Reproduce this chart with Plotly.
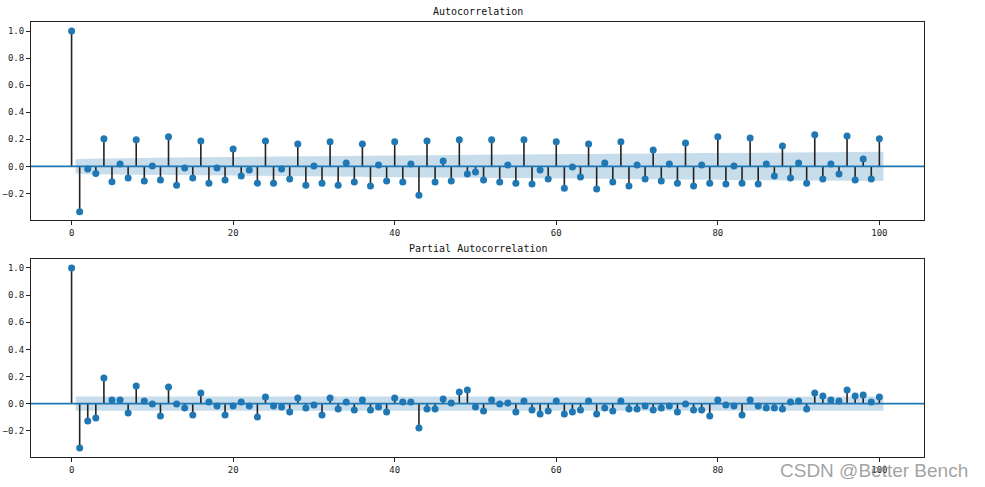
import numpy as np
import plotly.graph_objects as go
from plotly.subplots import make_subplots

lags = list(range(0, 101))
acf_values = [
    1.0, -0.335, -0.02, -0.052, 0.203, -0.114, 0.017, -0.087, 0.196, -0.109,
    0.002, -0.101, 0.218, -0.139, -0.012, -0.087, 0.188, -0.124, -0.012, -0.101,
    0.129, -0.072, -0.027, -0.124, 0.188, -0.124, -0.02, -0.094, 0.166, -0.139,
    0.002, -0.124, 0.181, -0.139, 0.025, -0.116, 0.166, -0.146, 0.01, -0.109,
    0.181, -0.116, 0.017, -0.213, 0.188, -0.116, 0.04, -0.109, 0.196, -0.057,
    -0.041, -0.101, 0.196, -0.116, 0.01, -0.124, 0.196, -0.131, -0.027, -0.094,
    0.181, -0.161, -0.005, -0.079, 0.166, -0.168, 0.025, -0.116, 0.181, -0.146,
    0.01, -0.094, 0.121, -0.109, 0.017, -0.124, 0.173, -0.146, 0.01, -0.124,
    0.218, -0.131, 0.002, -0.124, 0.210, -0.131, 0.017, -0.072, 0.151, -0.087,
    0.025, -0.124, 0.233, -0.094, 0.017, -0.057, 0.225, -0.101, 0.054, -0.094,
    0.203,
]
pacf_values = [
    1.0, -0.327, -0.128, -0.106, 0.189, 0.027, 0.027, -0.069, 0.130, 0.020,
    -0.002, -0.091, 0.123, -0.002, -0.032, -0.084, 0.079, 0.012, -0.017, -0.084,
    -0.017, 0.012, -0.017, -0.098, 0.049, -0.017, -0.025, -0.061, 0.042, -0.032,
    -0.010, -0.084, 0.042, -0.039, 0.012, -0.047, 0.027, -0.047, -0.025, -0.061,
    0.042, 0.012, 0.012, -0.179, -0.039, -0.039, 0.034, 0.005, 0.086, 0.101,
    -0.025, -0.054, 0.027, -0.002, 0.005, -0.061, 0.020, -0.047, -0.076, -0.054,
    0.020, -0.076, -0.061, -0.047, 0.020, -0.076, -0.032, -0.054, 0.020, -0.039,
    -0.039, -0.017, -0.047, -0.032, -0.017, -0.061, -0.002, -0.047, -0.047, -0.091,
    0.027, -0.010, -0.017, -0.084, 0.027, -0.017, -0.032, -0.032, -0.039, 0.012,
    0.020, -0.039, 0.079, 0.057, 0.027, 0.020, 0.101, 0.057, 0.064, 0.012,
    0.049,
]
n_obs = 1420
x_ticks = [0, 20, 40, 60, 80, 100]
y_ticks = [-0.2, 0.0, 0.2, 0.4, 0.6, 0.8, 1.0]
titles = ["Autocorrelation", "Partial Autocorrelation"]
watermark = "CSDN @Better Bench"

C0 = "#1f77b4"
BAND = "rgba(31,119,180,0.25)"
FONT = "DejaVu Sans Mono"

# confidence bands (statsmodels style)
acf_arr = np.array(acf_values)
z = 1.96
var_acf = np.ones(len(acf_arr)) / n_obs
var_acf[0] = 0
var_acf[2:] *= 1 + 2 * np.cumsum(acf_arr[1:-1] ** 2)
acf_half = z * np.sqrt(var_acf[1:])
pacf_half = np.full(len(lags) - 1, z / np.sqrt(n_obs))
band_x = np.array(lags[1:], dtype=float)
band_x[0] -= 0.5
band_x[-1] += 0.5

fig = make_subplots(rows=2, cols=1, vertical_spacing=0.0896)

for row, vals, half in [(1, acf_values, acf_half), (2, pacf_values, pacf_half)]:
    fig.add_trace(go.Scatter(x=np.concatenate([band_x, band_x[::-1]]),
                             y=np.concatenate([half, -half[::-1]]),
                             fill="toself", fillcolor=BAND, line=dict(width=0),
                             mode="lines", hoverinfo="skip", showlegend=False),
                  row=row, col=1)
    sx, sy = [], []
    for k, v in zip(lags, vals):
        sx += [k, k, None]
        sy += [0, v, None]
    fig.add_trace(go.Scatter(x=sx, y=sy, mode="lines",
                             line=dict(color="#222222", width=1.6),
                             showlegend=False, hoverinfo="skip"),
                  row=row, col=1)
    fig.add_shape(type="line", xref=f"x{'' if row == 1 else row} domain",
                  yref=f"y{'' if row == 1 else row}", x0=0, x1=1, y0=0, y1=0,
                  line=dict(color=C0, width=1.6))
    fig.add_trace(go.Scatter(x=lags, y=vals, mode="markers",
                             marker=dict(color=C0, size=7),
                             showlegend=False),
                  row=row, col=1)

axis_common = dict(showgrid=False, zeroline=False, showline=True, mirror=True,
                   linecolor="#222222", linewidth=1, ticks="outside",
                   ticklen=4, tickcolor="#222222", automargin=False,
                   tickfont=dict(family=FONT, size=9, color="#222222"))
for row, yr in [(1, [-0.3965, 1.0665]), (2, [-0.393, 1.066])]:
    fig.update_xaxes(range=[-5.025, 105.525], tickvals=x_ticks, row=row, col=1,
                     **axis_common)
    fig.update_yaxes(range=yr, tickvals=y_ticks, tickformat=".1f", row=row, col=1,
                     **axis_common)

fig.update_layout(
    width=985, height=487,
    margin=dict(l=31, r=61, t=22, b=30, autoexpand=False),
    paper_bgcolor="white", plot_bgcolor="white",
    font=dict(family=FONT, color="#222222"),
    annotations=[
        dict(text=titles[0], x=0.5, xref="paper", y=1.0, yref="paper",
             yanchor="bottom", yshift=3, showarrow=False,
             font=dict(family=FONT, size=10, color="#111111")),
        dict(text=titles[1], x=0.5, xref="paper", y=0.4552, yref="paper",
             yanchor="bottom", yshift=3, showarrow=False,
             font=dict(family=FONT, size=10, color="#111111")),
        dict(text=watermark, xref="paper", yref="paper",
             x=1.0 + (970 - 924) / 893.0, xanchor="right",
             y=-(470 - 457) / 435.0, yanchor="middle", showarrow=False,
             font=dict(family="Liberation Sans", size=19,
                       color="rgba(120,120,120,0.7)")),
    ],
)

fig.write_html("out.html", config={"displayModeBar": False},
               post_script="document.body.style.margin='0px';document.body.style.overflow='hidden';")
